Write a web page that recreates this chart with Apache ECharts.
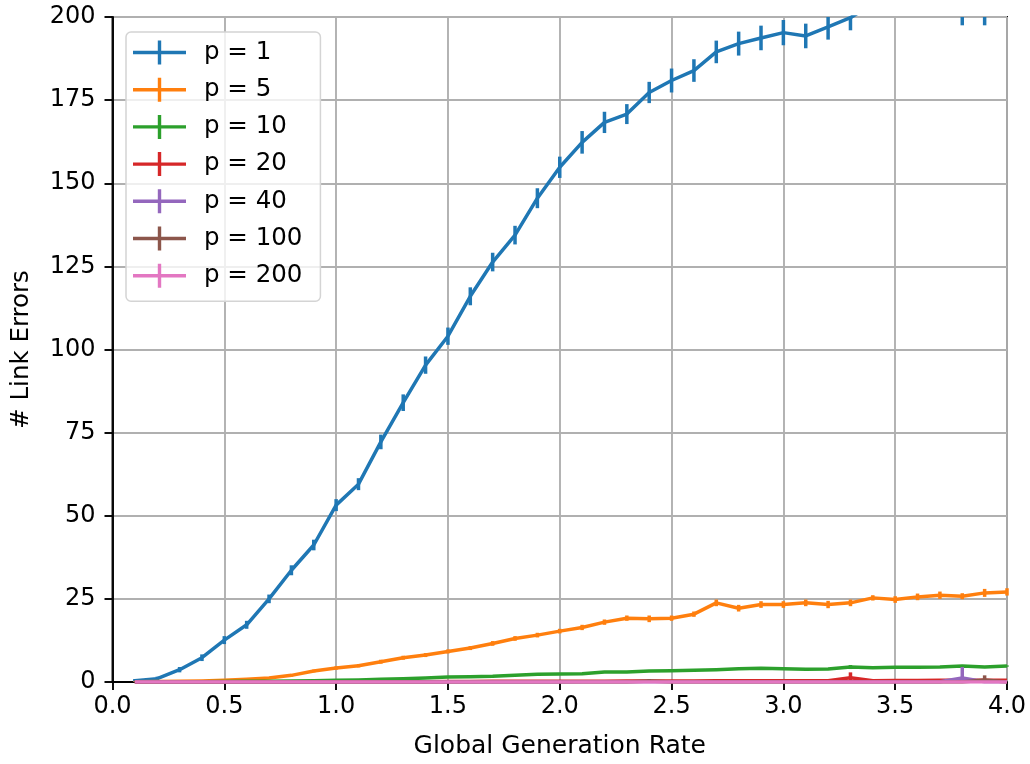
<!DOCTYPE html>
<html>
<head>
<meta charset="utf-8">
<script src="https://cdn.jsdelivr.net/npm/echarts@6/dist/echarts.min.js"></script>
<style>
  html, body { margin: 0; padding: 0; background: #fff; }
  #chart { width: 1030px; height: 764px; }
</style>
</head>
<body>
<div id="chart"></div>
<script>
// Global generation rate (x)
const rates = [0.1,0.2,0.3,0.4,0.5,0.6,0.7,0.8,0.9,1.0,
               1.1,1.2,1.3,1.4,1.5,1.6,1.7,1.8,1.9,2.0,
               2.1,2.2,2.3,2.4,2.5,2.6,2.7,2.8,2.9,3.0,
               3.1,3.2,3.3,3.4,3.5,3.6,3.7,3.8,3.9,4.0];

// Mean link errors and error-bar half widths per p
const p1 = [0.4,1.0,3.7,7.3,12.6,17.2,25.0,33.6,41.2,53.2,
            59.5,72.2,84.0,95.3,104.0,116.0,126.3,134.4,145.5,154.8,
            162.3,168.3,170.8,177.3,180.9,183.9,189.5,192.0,193.7,195.3,
            194.3,197.0,199.8,204,206,208,207,202,202,205];
const p1Err = [0.5,0.6,0.8,1.0,1.2,1.2,1.3,1.5,1.6,1.8,
               1.8,2.2,2.5,2.6,2.6,2.7,2.8,2.8,3.0,3.2,
               3.4,3.2,3.0,3.2,3.6,3.4,3.4,3.6,3.7,3.8,
               3.7,3.8,3.8,4.0,4.0,4.0,4.0,4.5,4.5,4.5];

const p5 = [0.1,0.15,0.2,0.3,0.5,0.8,1.2,2.0,3.3,4.2,
            4.9,6.1,7.3,8.1,9.2,10.2,11.6,13.1,14.1,15.3,
            16.4,18.0,19.2,19.0,19.2,20.4,23.8,22.2,23.3,23.3,
            23.8,23.3,23.8,25.3,24.8,25.6,26.1,25.8,26.8,27.1];
const p5Err = [0.1,0.1,0.1,0.2,0.2,0.3,0.3,0.4,0.4,0.5,
               0.5,0.6,0.6,0.6,0.6,0.6,0.7,0.7,0.7,0.7,
               0.8,0.8,0.8,1.0,0.8,0.8,1.0,1.0,1.0,1.0,
               1.0,1.1,1.0,0.8,1.0,1.0,1.1,0.9,1.2,1.1];

const p10 = [0,0,0.05,0.1,0.15,0.2,0.25,0.3,0.4,0.5,
             0.6,0.8,1.0,1.2,1.5,1.6,1.7,2.0,2.3,2.4,
             2.5,3.0,3.0,3.3,3.4,3.5,3.7,4.0,4.1,4.0,
             3.8,3.9,4.5,4.3,4.4,4.4,4.5,4.8,4.5,4.8];
const p10Err = [0,0,0.05,0.05,0.1,0.1,0.1,0.1,0.1,0.15,
                0.15,0.15,0.2,0.2,0.2,0.2,0.2,0.2,0.2,0.2,
                0.2,0.2,0.2,0.2,0.2,0.2,0.2,0.2,0.2,0.2,
                0.2,0.2,0.6,0.2,0.2,0.2,0.2,0.3,0.2,0.2];

const p20 = [0,0,0,0,0,0,0,0,0.05,0.05,
             0.1,0.1,0.1,0.1,0.15,0.15,0.2,0.2,0.2,0.2,
             0.25,0.25,0.3,0.3,0.3,0.3,0.35,0.35,0.4,0.4,
             0.4,0.4,1.3,0.4,0.45,0.45,0.5,0.5,0.5,0.5];
const p20Err = [0,0,0,0,0,0,0,0,0,0,
                0,0,0,0,0,0,0,0,0,0,
                0,0,0,0,0,0,0,0,0,0,
                0,0,1.6,0,0,0,0,0,0,0];

const p40 = [0,0,0,0,0,0,0,0,0,0,
             0,0,0,0,0,0,0,0,0,0,
             0.05,0.05,0.05,0.05,0.05,0.05,0.05,0.05,0.1,0.1,
             0.1,0.1,0.1,0.1,0.1,0.1,0.1,1.2,0.1,0.1];
const p40Err = [0,0,0,0,0,0,0,0,0,0,
                0,0,0,0,0,0,0,0,0,0,
                0,0,0,0,0,0,0,0,0,0,
                0,0,0,0,0,0,0,3.3,0,0];

const p100 = [0,0,0,0,0,0,0,0,0,0,
              0,0,0,0,0,0,0,0,0,0,
              0,0,0,0.3,0,0,0,0,0,0,
              0,0,0,0,0,0,0,0,0.6,0];
const p100Err = [0,0,0,0,0,0,0,0,0,0,
                 0,0,0,0,0,0,0,0,0,0,
                 0,0,0,0.5,0,0,0,0,0,0,
                 0,0,0,0,0,0,0,0,1.4,0];

const p200 = [0,0,0,0,0,0,0,0,0,0,
              0,0,0,0,0,0,0,0,0,0,
              0,0,0,0,0,0,0,0,0,0,
              0,0,0,0,0,0,0,0,0,0];
const p200Err = p200.map(() => 0);

const seriesNames = ['p = 1','p = 5','p = 10','p = 20','p = 40','p = 100','p = 200'];
const seriesValues = [p1, p5, p10, p20, p40, p100, p200];
const seriesErrors = [p1Err, p5Err, p10Err, p20Err, p40Err, p100Err, p200Err];
const colors = ['#1f77b4','#ff7f0e','#2ca02c','#d62728','#9467bd','#8c564b','#e377c2'];

const xTicks = [0.0,0.5,1.0,1.5,2.0,2.5,3.0,3.5,4.0];
const yTicks = [0,25,50,75,100,125,150,175,200];

const FONT = 'DejaVu Sans';
const LW = 3.5;

// Vertical error bar, clipped to the plotting rectangle
function errorBar(color) {
  return function (params, api) {
    const x = api.value(0), lo = api.value(1), hi = api.value(2);
    if (hi - lo <= 0) return null;
    const a = api.coord([x, lo]);
    const b = api.coord([x, hi]);
    const cs = params.coordSys;
    const top = cs.y, bottom = cs.y + cs.height;
    const y1 = Math.min(bottom, Math.max(top, a[1]));
    const y2 = Math.min(bottom, Math.max(top, b[1]));
    if (Math.abs(y1 - y2) < 0.5) return null;
    return {
      type: 'line',
      shape: { x1: a[0], y1: y1, x2: b[0], y2: y2 },
      style: { stroke: color, lineWidth: LW }
    };
  };
}

const series = [];
seriesNames.forEach((name, i) => {
  const vals = seriesValues[i];
  const errs = seriesErrors[i];
  series.push({
    name: name,
    type: 'line',
    data: rates.map((x, k) => [x, vals[k]]),
    showSymbol: false,
    symbol: 'none',
    lineStyle: { color: colors[i], width: LW, join: 'round' },
    itemStyle: { color: colors[i] },
    clip: true,
    z: 2 + i * 0.01
  });
  series.push({
    name: name + ' err',
    type: 'custom',
    data: rates.map((x, k) => [x, vals[k] - errs[k], vals[k] + errs[k]]),
    renderItem: errorBar(colors[i]),
    encode: { x: 0, y: [1, 2] },
    z: 2 + i * 0.01,
    silent: true
  });
});

const chart = echarts.init(document.getElementById('chart'), null, { renderer: 'canvas' });
chart.setOption({
  animation: false,
  backgroundColor: '#ffffff',
  color: colors,
  grid: {
    left: 112.5, right: 23, top: 17, bottom: 80.7,
    show: true, borderColor: '#000', borderWidth: 1.9,
    backgroundColor: 'transparent'
  },
  legend: {
    orient: 'vertical',
    left: 126, top: 32,
    data: seriesNames.map(n => ({ name: n })),
    icon: 'path://M0,10.3H53V13.7H0Z M24.8,0H28.2V24H24.8Z',
    itemWidth: 53, itemHeight: 24,
    itemGap: 12.2,
    padding: [8, 18, 13, 7],
    backgroundColor: 'rgba(255,255,255,0.8)',
    borderColor: '#d4d4d4', borderWidth: 1.5, borderRadius: 5,
    textStyle: { fontFamily: FONT, fontSize: 24.5, color: '#000', padding: [0, 0, 0, 13] },
    selectedMode: false,
    z: 10
  },
  xAxis: {
    type: 'value', min: 0, max: 4, interval: 0.5,
    name: 'Global Generation Rate', nameLocation: 'middle', nameGap: 52,
    nameTextStyle: { fontFamily: FONT, fontSize: 25, color: '#000' },
    axisLine: { show: true, onZero: false, lineStyle: { color: '#000', width: 1.9 } },
    axisTick: { show: true, inside: false, length: 8, lineStyle: { color: '#000', width: 1.9 } },
    axisLabel: {
      fontFamily: FONT, fontSize: 24, color: '#000', margin: 13,
      formatter: v => xTicks.includes(v) ? v.toFixed(1) : ''
    },
    splitLine: { show: true, lineStyle: { color: '#b0b0b0', width: 1.9 } }
  },
  yAxis: {
    type: 'value', min: 0, max: 200, interval: 25,
    name: '# Link Errors', nameLocation: 'middle', nameGap: 78, nameRotate: 90,
    nameTextStyle: { fontFamily: FONT, fontSize: 24.5, color: '#000' },
    axisLine: { show: true, onZero: false, lineStyle: { color: '#000', width: 1.9 } },
    axisTick: { show: true, inside: false, length: 8, lineStyle: { color: '#000', width: 1.9 } },
    axisLabel: {
      fontFamily: FONT, fontSize: 24, color: '#000', margin: 17,
      formatter: v => yTicks.includes(v) ? String(v) : ''
    },
    splitLine: { show: true, lineStyle: { color: '#b0b0b0', width: 1.9 } }
  },
  series: series
});
</script>
</body>
</html>
